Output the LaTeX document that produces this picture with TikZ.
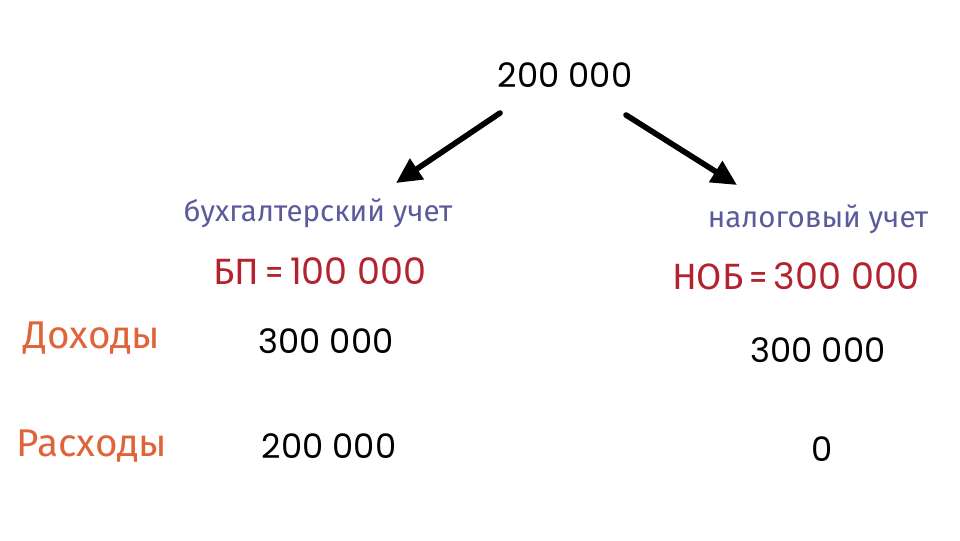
\documentclass[tikz,border=0pt]{standalone}
\usepackage{fontspec}
\setmainfont{Fira Sans}
\newfontfamily\numfont{Poppins}
\usetikzlibrary{arrows.meta,positioning}

\definecolor{notecol}{HTML}{5B5B9C}
\definecolor{rescol}{HTML}{B3222F}
\definecolor{rowcol}{HTML}{E0643A}

\tikzset{
  num/.style={font=\numfont\fontsize{24}{27}\selectfont, text=black},
  note/.style={font=\fontsize{21}{24}\selectfont, text=notecol},
  res/.style={font=\fontsize{26}{29}\selectfont, text=rescol},
  rowlbl/.style={font=\fontsize{27.5}{30}\selectfont, text=rowcol},
  bigarrow/.style={-{Triangle[length=18pt,width=17pt]}, line width=4pt, line cap=round}
}

\begin{document}
\begin{tikzpicture}[x=0.025cm, y=-0.025cm]
\useasboundingbox (0,0) rectangle (960,540);

\node[num] (top) at (565,75) {200 000};
\coordinate (la) at (500,113);
\coordinate (lb) at (396,183);
\coordinate (ra) at (626,115);
\coordinate (rb) at (737,185);
\draw[bigarrow] (la) -- (lb);
\draw[bigarrow] (ra) -- (rb);

\node[note] (buh) at (318,213) {бухгалтерский учет};
\node[res] (bp) at (320,271) {БП\,=\,{\numfont 100 000}};
\node[note] (nal) at (818,219) {налоговый учет};
\node[res] (nob) at (796,276) {НОБ\,=\,{\numfont 300 000}};

\node[rowlbl] (doh) at (92,338) {Доходы};
\node[rowlbl] (ras) at (92,446) {Расходы};

\node[num] (bdoh) at (326,341) {300 000};
\node[num] (bras) at (329,446) {200 000};
\node[num] (ndoh) at (818,350) {300 000};
\node[num] (nras) at (822,449) {0};

\end{tikzpicture}
\end{document}
